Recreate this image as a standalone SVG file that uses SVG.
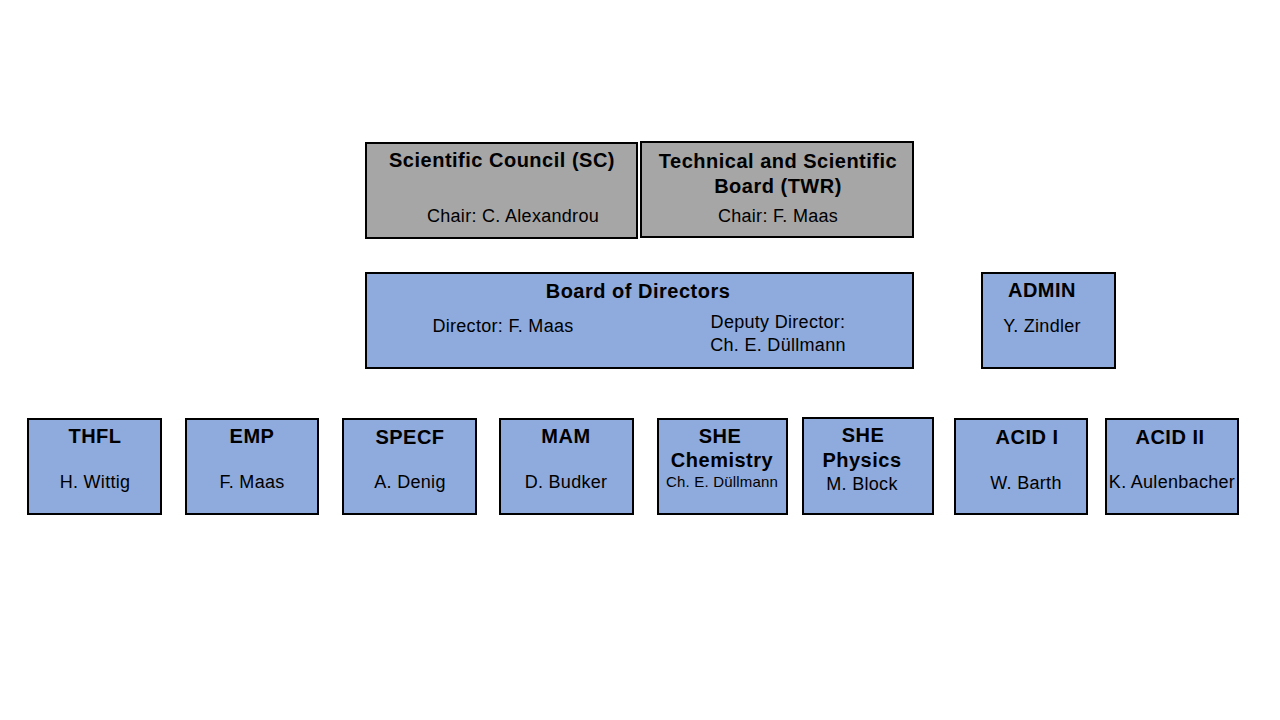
<svg xmlns="http://www.w3.org/2000/svg" width="1280" height="720" viewBox="0 0 1280 720">
<style>
.g{fill:#a6a6a6;stroke:#000;stroke-width:2}
.b{fill:#8faadc;stroke:#000;stroke-width:2}
text{font-family:"Liberation Sans",Arial,sans-serif;fill:#000;text-anchor:middle}
.t{font-size:20px;font-weight:bold;letter-spacing:0.5px}
.n{font-size:18px;letter-spacing:0.3px}
.s{font-size:15px;letter-spacing:0.2px}
</style>
<rect width="1280" height="720" fill="#fff"/>
<g id="sc"><rect class="g" x="366" y="143" width="271" height="95"/><text class="t" x="502" y="167">Scientific Council (SC)</text><text class="n" x="513" y="222">Chair: C. Alexandrou</text></g>
<g id="twr"><rect class="g" x="641" y="142" width="272" height="95"/><text class="t" x="778" y="168">Technical and Scientific</text><text class="t" x="778" y="193">Board (TWR)</text><text class="n" x="778" y="222">Chair: F. Maas</text></g>
<g id="board"><rect class="b" x="366" y="273" width="547" height="95"/><text class="t" x="638" y="298">Board of Directors</text><text class="n" x="503" y="332">Director: F. Maas</text><text class="n" x="778" y="328">Deputy Director:</text><text class="n" x="778" y="351">Ch. E. Düllmann</text></g>
<g id="admin"><rect class="b" x="982" y="273" width="133" height="95"/><text class="t" x="1042" y="297">ADMIN</text><text class="n" x="1042" y="332">Y. Zindler</text></g>
<g id="thfl"><rect class="b" x="28" y="419" width="133" height="95"/><text class="t" x="95" y="443">THFL</text><text class="n" x="95" y="488">H. Wittig</text></g>
<g id="emp"><rect class="b" x="186" y="419" width="132" height="95"/><text class="t" x="252" y="443">EMP</text><text class="n" x="252" y="488">F. Maas</text></g>
<g id="specf"><rect class="b" x="343" y="419" width="133" height="95"/><text class="t" x="410" y="444">SPECF</text><text class="n" x="410" y="488">A. Denig</text></g>
<g id="mam"><rect class="b" x="500" y="419" width="133" height="95"/><text class="t" x="566" y="443">MAM</text><text class="n" x="566" y="488">D. Budker</text></g>
<g id="she-chem"><rect class="b" x="658" y="419" width="129" height="95"/><text class="t" x="720" y="443">SHE</text><text class="t" x="722" y="467">Chemistry</text><text class="s" x="722" y="487">Ch. E. Düllmann</text></g>
<g id="she-phys"><rect class="b" x="803" y="418" width="130" height="96"/><text class="t" x="863" y="442">SHE</text><text class="t" x="862" y="467">Physics</text><text class="n" x="862" y="490">M. Block</text></g>
<g id="acid1"><rect class="b" x="955" y="419" width="132" height="95"/><text class="t" x="1027" y="444">ACID I</text><text class="n" x="1026" y="489">W. Barth</text></g>
<g id="acid2"><rect class="b" x="1106" y="419" width="132" height="95"/><text class="t" x="1170" y="444">ACID II</text><text class="n" x="1172" y="488">K. Aulenbacher</text></g>
<g id="connectors"></g>
</svg>
